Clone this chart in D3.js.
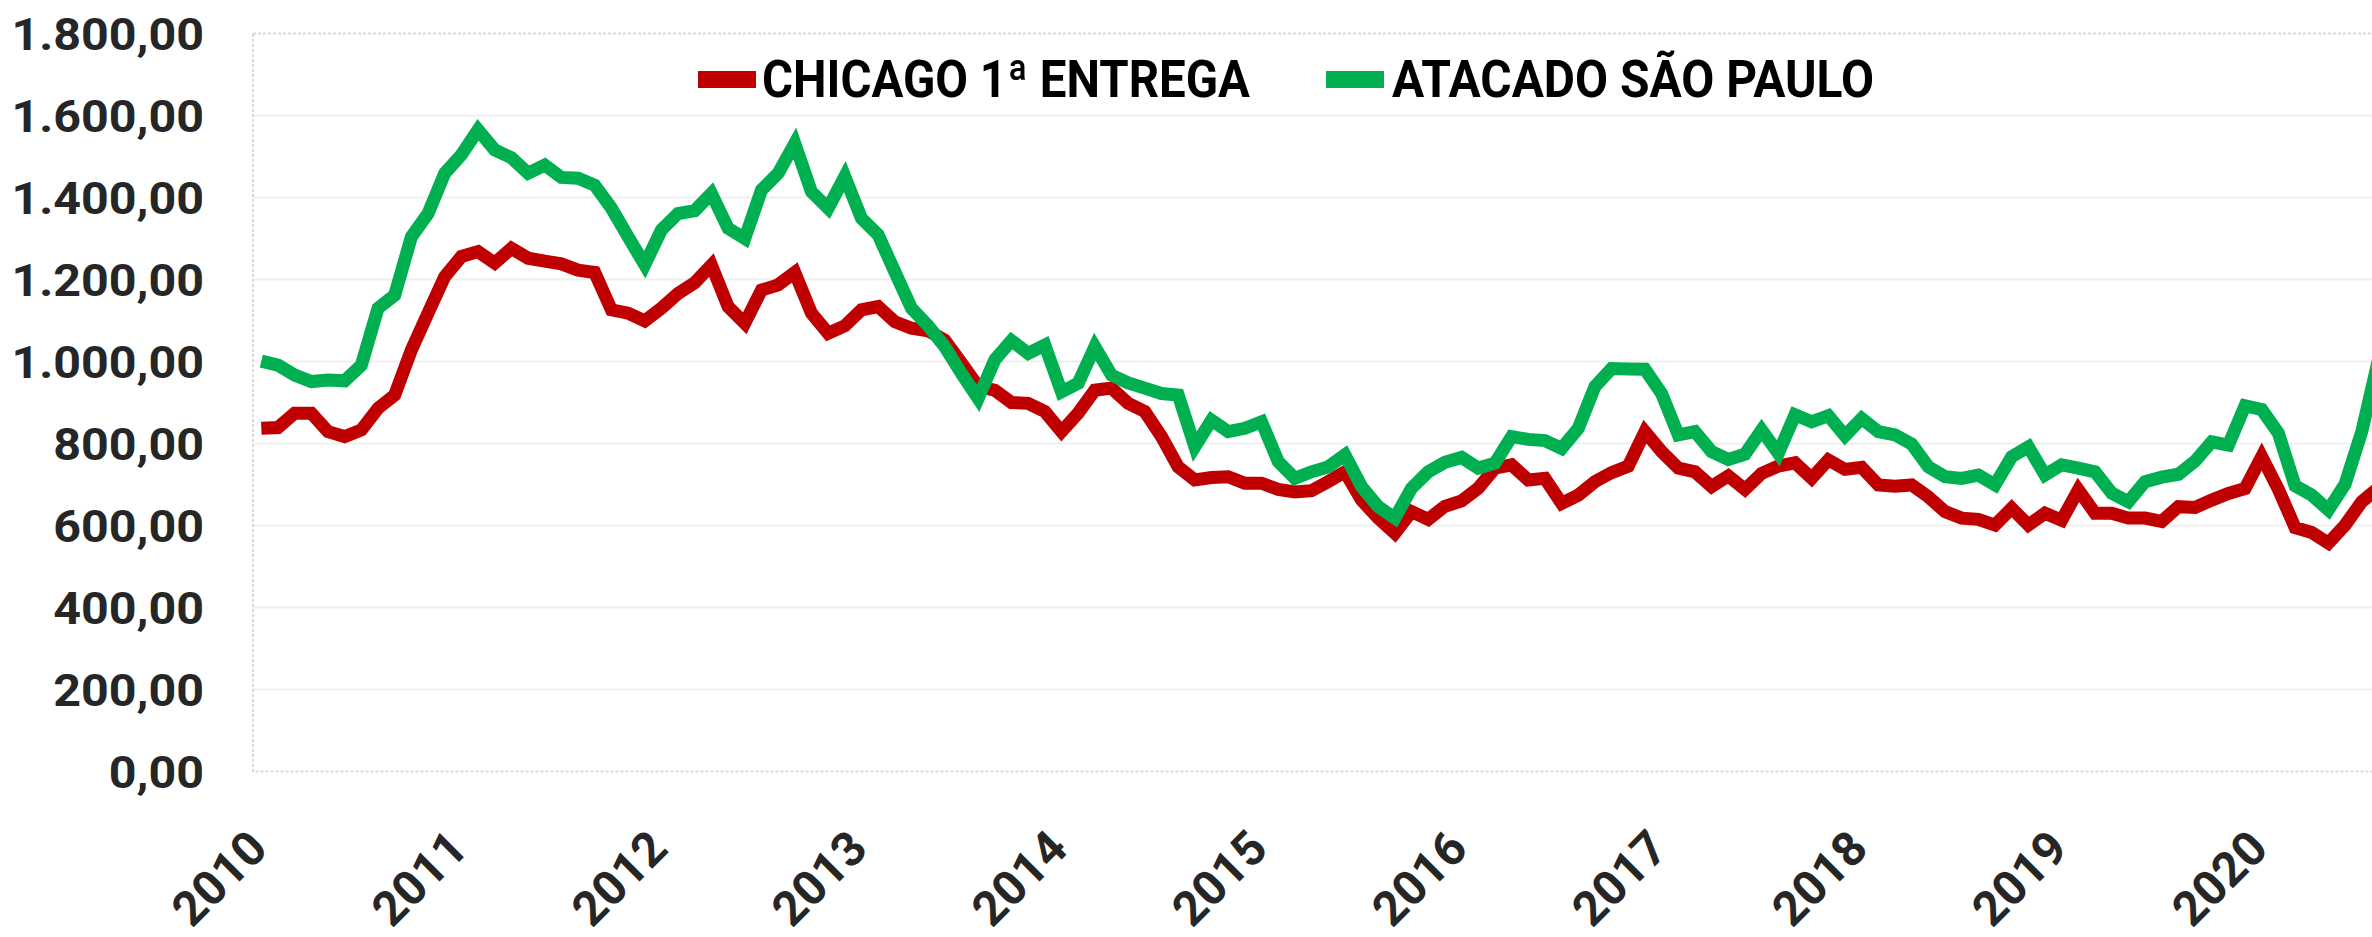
<!DOCTYPE html>
<html>
<head>
<meta charset="utf-8">
<script src="https://cdn.jsdelivr.net/npm/d3@7"></script>
<style>
  body { margin: 0; background: #fff; }
  svg { display: block; }
</style>
</head>
<body>
<div id="vis-holder"></div>
<script>
// Chart data: monthly values from Jan 2010
const years = ["2010", "2011", "2012", "2013", "2014", "2015", "2016", "2017", "2018", "2019", "2020"];
const seriesNames = ["CHICAGO 1ª ENTREGA", "ATACADO SÃO PAULO"];
const yTicks = [0, 200, 400, 600, 800, 1000, 1200, 1400, 1600, 1800];

const chicago = [
  837, 839, 874, 874, 829, 817, 833, 886, 918, 1028, 1118, 1207,
  1256, 1268, 1240, 1276, 1252, 1245, 1238, 1223, 1217, 1126, 1118, 1099,
  1130, 1166, 1192, 1235, 1134, 1093, 1174, 1187, 1217, 1118, 1069, 1087,
  1126, 1134, 1097, 1081, 1075, 1052, 996, 939, 930, 900, 898, 878,
  829, 874, 930, 935, 898, 878, 817, 743, 711, 717, 719, 703,
  703, 688, 682, 685, 707, 731, 662, 618, 581, 634, 615, 647,
  660, 691, 740, 748, 711, 715, 654, 674, 707, 729, 745, 829,
  780, 740, 731, 695, 721, 688, 727, 745, 753, 715, 760, 737,
  742, 699, 696, 699, 670, 634, 618, 615, 601, 642, 601, 630,
  613, 687, 630, 630, 618, 618, 610, 646, 644, 662, 678, 690,
  768, 688, 595, 583, 557, 601, 658, 692
];

const atacado = [
  1001, 991, 967, 951, 955, 953, 991, 1130, 1162, 1304, 1361, 1459,
  1504, 1565, 1516, 1497, 1459, 1479, 1449, 1447, 1430, 1374, 1304, 1236,
  1321, 1361, 1368, 1410, 1325, 1300, 1418, 1459, 1532, 1414, 1374, 1451,
  1349, 1309, 1219, 1130, 1087, 1036, 971, 910, 1004, 1051, 1020, 1040,
  926, 947, 1036, 967, 948, 935, 922, 918, 792, 857, 829, 837,
  853, 756, 715, 731, 743, 772, 695, 646, 618, 691, 731, 754,
  766, 740, 752, 817, 810, 807, 788, 837, 939, 983, 982, 981,
  922, 821, 829, 780, 761, 774, 833, 776, 870, 853, 868, 819,
  861, 829, 821, 799, 743, 719, 715, 723, 699, 768, 792, 723,
  748, 740, 731, 679, 658, 707, 718, 725, 757, 804, 796, 892,
  883, 825, 697, 674, 638, 701, 829, 1004
];

// Dimensions
const width = 2372;
const height = 937;
const plot = { left: 253, top: 33.5, bottom: 771.5 };
const step = 16.67; // one month

const colors = ["#C00000", "#00B050"];

const svg = d3.select("#vis-holder")
  .append("svg")
  .attr("width", width)
  .attr("height", height)
  .attr("viewBox", [0, 0, width, height]);

// Scales
const x = d3.scaleLinear()
  .domain([-0.5, chicago.length - 0.5])
  .range([plot.left, plot.left + chicago.length * step]);

const y = d3.scaleLinear()
  .domain([0, 1800])
  .range([plot.bottom, plot.top]);

// number format like 1.800,00
const ptBR = d3.formatLocale({ decimal: ",", thousands: ".", grouping: [3], currency: ["R$", ""] });
const fmt = ptBR.format(",.2f");

// Gridlines
svg.append("g")
  .selectAll("line")
  .data(yTicks.filter(d => d > 0 && d < 1800))
  .enter()
  .append("line")
    .attr("x1", plot.left)
    .attr("x2", width)
    .attr("y1", d => y(d))
    .attr("y2", d => y(d))
    .attr("stroke", "#efefef")
    .attr("stroke-width", 2);

// dashed plot border
svg.append("rect")
  .attr("x", plot.left)
  .attr("y", plot.top)
  .attr("width", x.range()[1] - plot.left)
  .attr("height", plot.bottom - plot.top)
  .attr("fill", "none")
  .attr("stroke", "#d9d9d9")
  .attr("stroke-width", 2)
  .attr("stroke-dasharray", "3,2");

// Y axis labels
svg.append("g")
  .attr("transform", "translate(204,0)")
  .call(d3.axisLeft(y).tickValues(yTicks).tickFormat(fmt).tickSize(0).tickPadding(0))
  .call(g => g.select(".domain").remove())
  .call(g => g.selectAll("text")
    .attr("x", 0)
    .attr("dy", "0.36em")
    .attr("transform", "scale(1.1,1)")
    .attr("font-family", "Roboto, sans-serif")
    .attr("font-size", 44)
    .attr("font-weight", 700)
    .attr("fill", "#262626"));

// X axis labels (January of each year)
svg.append("g")
  .attr("transform", "translate(0,851)")
  .call(d3.axisBottom(x).tickValues(d3.range(0, years.length * 12, 12)).tickFormat(i => years[i / 12]).tickSize(0))
  .call(g => g.select(".domain").remove())
  .call(g => g.selectAll("text")
    .attr("x", 0)
    .attr("y", 0)
    .attr("dy", 0)
    .attr("transform", "translate(8,0) rotate(-45)")
    .attr("text-anchor", "end")
    .attr("font-family", "Roboto, sans-serif")
    .attr("font-size", 48)
    .attr("font-weight", 700)
    .attr("fill", "#262626"));

// Lines
const line = d3.line()
  .x((d, i) => x(i))
  .y(d => y(d));

[chicago, atacado].forEach((s, k) => {
  svg.append("path")
    .datum(s)
    .attr("fill", "none")
    .attr("stroke", colors[k])
    .attr("stroke-width", 13)
    .attr("stroke-linejoin", "miter")
    .attr("stroke-miterlimit", 4)
    .attr("d", line);
});

// Legend
const legendPos = [
  { sx: 698, tx: 762, tw: 488 },
  { sx: 1326, tx: 1392, tw: 482 }
];
const legend = svg.append("g");
legend.selectAll("rect")
  .data(seriesNames)
  .enter()
  .append("rect")
    .attr("x", (d, i) => legendPos[i].sx)
    .attr("y", 71)
    .attr("width", 58)
    .attr("height", 17)
    .attr("fill", (d, i) => colors[i]);
legend.selectAll("text")
  .data(seriesNames)
  .enter()
  .append("text")
    .attr("x", (d, i) => legendPos[i].tx)
    .attr("y", 97)
    .attr("textLength", (d, i) => legendPos[i].tw)
    .attr("lengthAdjust", "spacingAndGlyphs")
    .attr("font-family", "Roboto, sans-serif")
    .attr("font-size", 52)
    .attr("font-weight", 700)
    .attr("fill", "#000")
    .text(d => d);
</script>
</body>
</html>
